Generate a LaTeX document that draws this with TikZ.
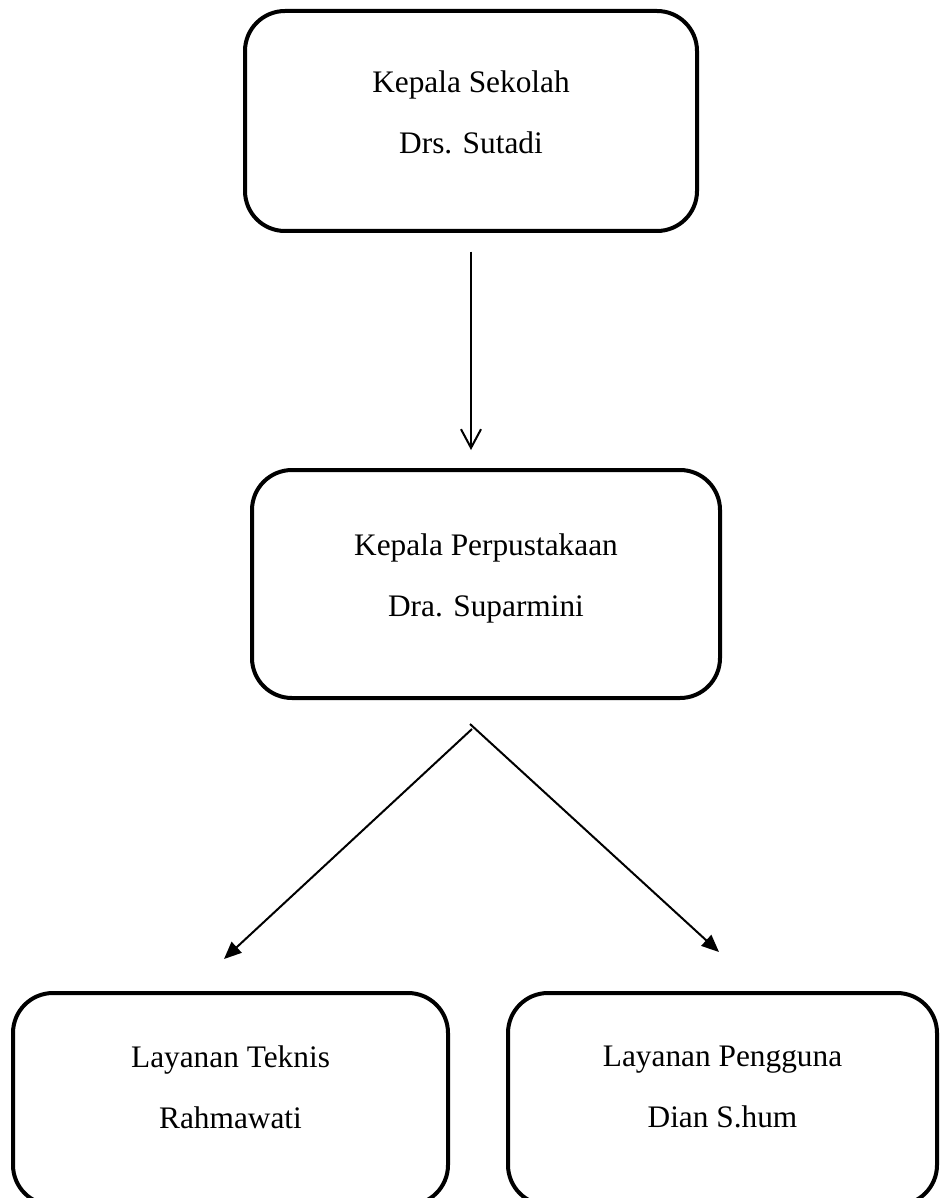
\documentclass[tikz,border=0pt]{standalone}
\usepackage{fontspec}
\setmainfont{Liberation Serif}
\usetikzlibrary{arrows.meta,calc}
\begin{document}
\begin{tikzpicture}[x=0.75pt,y=-0.75pt,
  orgbox/.style={draw=black,line width=3pt,rounded corners=30pt,align=center,
    font=\fontsize{23.5}{45.75}\selectfont,text depth=13.5pt,inner sep=0pt},
  varrow/.style={draw=black,line width=1.5pt,-{Straight Barb[length=14pt,width=15pt,line width=1.5pt]}},
  darrow/.style={draw=black,line width=1.5pt,-{Triangle[length=13pt,width=11pt]}}]
\useasboundingbox (0,0) rectangle (939,1198);
\node[orgbox,minimum width=339pt,minimum height=165pt] (ks) at (471,121)
  {Kepala Sekolah\\Drs. Sutadi};
\node[orgbox,minimum width=351pt,minimum height=171pt] (kp) at (486,584)
  {Kepala Perpustakaan\\Dra. Suparmini};
\node[orgbox,minimum width=326.25pt,minimum height=159pt,text depth=18pt] (lt) at (230.5,1099)
  {Layanan Teknis\\Rahmawati};
\node[orgbox,minimum width=321.75pt,minimum height=159pt,text depth=18pt] (lp) at (722.5,1099)
  {Layanan Pengguna\\Dian S.hum};
\draw[varrow,shorten <=14pt,shorten >=13.5pt] (ks.south) -- (ks.south |- kp.north);
\draw[darrow] ($(kp.south)+(-14,29)$) -- ($(lt.north)+(-6.5,-32)$);
\draw[darrow] ($(kp.south)+(-16,24)$) -- ($(lp.north)+(-3.5,-39)$);
\end{tikzpicture}
\end{document}
